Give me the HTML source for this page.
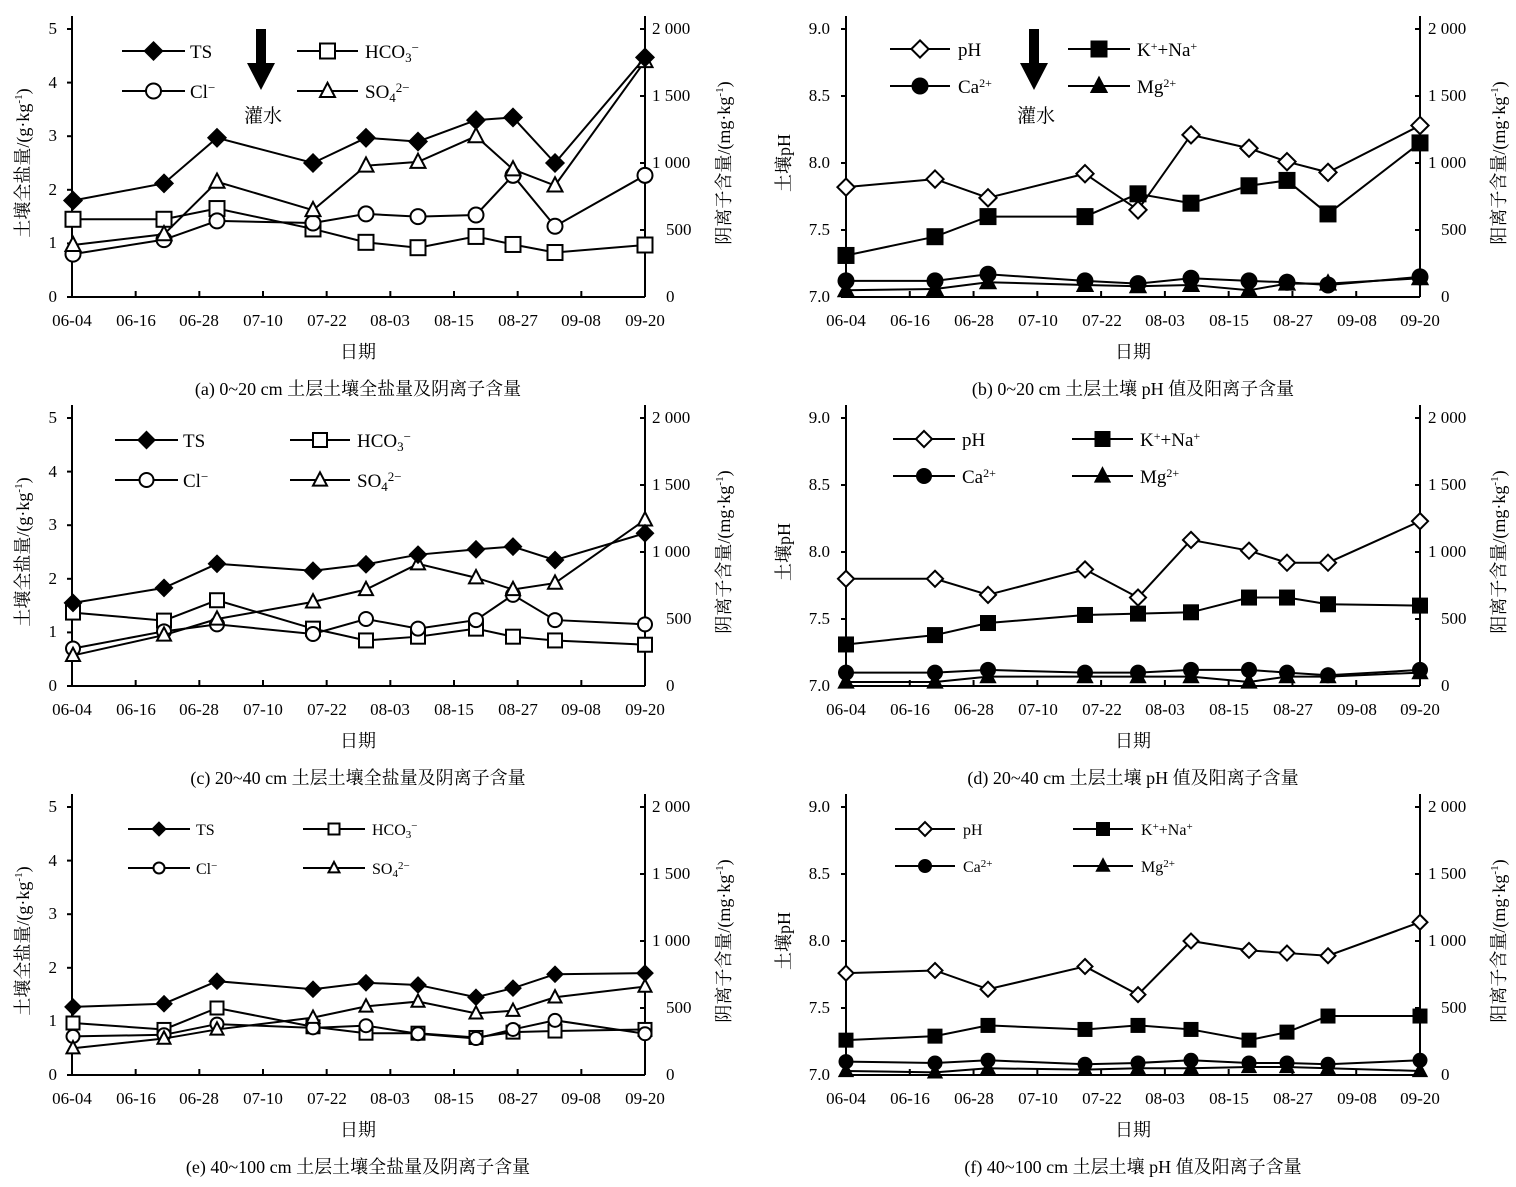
<!DOCTYPE html>
<html><head><meta charset="utf-8"><style>
body{margin:0;background:#fff}
svg{display:block}
text{font-family:"Liberation Serif","Noto Serif CJK SC","Noto Sans CJK SC",serif;fill:#000}
.t{font-size:17px}
.c{font-family:"Liberation Serif","Noto Serif CJK SC",serif;font-size:18px}
.lg{font-size:19px}
</style></head><body>
<svg id="s" width="1516" height="1187" viewBox="0 0 1516 1187" xmlns="http://www.w3.org/2000/svg">
<g id="texts">
<g>
<g class="t" text-anchor="end"><text x="57" y="302">0</text><text x="57" y="248">1</text><text x="57" y="195">2</text><text x="57" y="141">3</text><text x="57" y="88">4</text><text x="57" y="34">5</text></g>
<g class="t" text-anchor="start"><text x="666" y="302">0</text><text x="666" y="235">500</text><text x="652" y="168">1 000</text><text x="652" y="101">1 500</text><text x="652" y="34">2 000</text></g>
<g class="t" text-anchor="middle"><text x="72" y="326">06-04</text><text x="136" y="326">06-16</text><text x="199" y="326">06-28</text><text x="263" y="326">07-10</text><text x="327" y="326">07-22</text><text x="390" y="326">08-03</text><text x="454" y="326">08-15</text><text x="518" y="326">08-27</text><text x="581" y="326">09-08</text><text x="645" y="326">09-20</text></g>
<text class="c" x="358" y="358" text-anchor="middle">日期</text>
<text class="c" transform="translate(29,163) rotate(-90)" text-anchor="middle">土壤全盐量/(g·kg<tspan dy="-7" font-size="11">-1</tspan><tspan dy="7">)</tspan></text>
<text class="c" transform="translate(730,163) rotate(-90)" text-anchor="middle">阴离子含量/(mg·kg<tspan dy="-7" font-size="11">-1</tspan><tspan dy="7">)</tspan></text>
</g>
<g transform="translate(0,389)">
<g class="t" text-anchor="end"><text x="57" y="302">0</text><text x="57" y="248">1</text><text x="57" y="195">2</text><text x="57" y="141">3</text><text x="57" y="88">4</text><text x="57" y="34">5</text></g>
<g class="t" text-anchor="start"><text x="666" y="302">0</text><text x="666" y="235">500</text><text x="652" y="168">1 000</text><text x="652" y="101">1 500</text><text x="652" y="34">2 000</text></g>
<g class="t" text-anchor="middle"><text x="72" y="326">06-04</text><text x="136" y="326">06-16</text><text x="199" y="326">06-28</text><text x="263" y="326">07-10</text><text x="327" y="326">07-22</text><text x="390" y="326">08-03</text><text x="454" y="326">08-15</text><text x="518" y="326">08-27</text><text x="581" y="326">09-08</text><text x="645" y="326">09-20</text></g>
<text class="c" x="358" y="358" text-anchor="middle">日期</text>
<text class="c" transform="translate(29,163) rotate(-90)" text-anchor="middle">土壤全盐量/(g·kg<tspan dy="-7" font-size="11">-1</tspan><tspan dy="7">)</tspan></text>
<text class="c" transform="translate(730,163) rotate(-90)" text-anchor="middle">阴离子含量/(mg·kg<tspan dy="-7" font-size="11">-1</tspan><tspan dy="7">)</tspan></text>
</g>
<g transform="translate(0,778)">
<g class="t" text-anchor="end"><text x="57" y="302">0</text><text x="57" y="248">1</text><text x="57" y="195">2</text><text x="57" y="141">3</text><text x="57" y="88">4</text><text x="57" y="34">5</text></g>
<g class="t" text-anchor="start"><text x="666" y="302">0</text><text x="666" y="235">500</text><text x="652" y="168">1 000</text><text x="652" y="101">1 500</text><text x="652" y="34">2 000</text></g>
<g class="t" text-anchor="middle"><text x="72" y="326">06-04</text><text x="136" y="326">06-16</text><text x="199" y="326">06-28</text><text x="263" y="326">07-10</text><text x="327" y="326">07-22</text><text x="390" y="326">08-03</text><text x="454" y="326">08-15</text><text x="518" y="326">08-27</text><text x="581" y="326">09-08</text><text x="645" y="326">09-20</text></g>
<text class="c" x="358" y="358" text-anchor="middle">日期</text>
<text class="c" transform="translate(29,163) rotate(-90)" text-anchor="middle">土壤全盐量/(g·kg<tspan dy="-7" font-size="11">-1</tspan><tspan dy="7">)</tspan></text>
<text class="c" transform="translate(730,163) rotate(-90)" text-anchor="middle">阴离子含量/(mg·kg<tspan dy="-7" font-size="11">-1</tspan><tspan dy="7">)</tspan></text>
</g>
<g>
<g class="t" text-anchor="end"><text x="830" y="302">7.0</text><text x="830" y="235">7.5</text><text x="830" y="168">8.0</text><text x="830" y="101">8.5</text><text x="830" y="34">9.0</text></g>
<g class="t" text-anchor="start"><text x="1441" y="302">0</text><text x="1441" y="235">500</text><text x="1428" y="168">1 000</text><text x="1428" y="101">1 500</text><text x="1428" y="34">2 000</text></g>
<g class="t" text-anchor="middle"><text x="846" y="326">06-04</text><text x="910" y="326">06-16</text><text x="974" y="326">06-28</text><text x="1038" y="326">07-10</text><text x="1102" y="326">07-22</text><text x="1165" y="326">08-03</text><text x="1229" y="326">08-15</text><text x="1293" y="326">08-27</text><text x="1357" y="326">09-08</text><text x="1420" y="326">09-20</text></g>
<text class="c" x="1133" y="358" text-anchor="middle">日期</text>
<text class="c" transform="translate(790,163) rotate(-90)" text-anchor="middle">土壤pH</text>
<text class="c" transform="translate(1505,163) rotate(-90)" text-anchor="middle">阳离子含量/(mg·kg<tspan dy="-7" font-size="11">-1</tspan><tspan dy="7">)</tspan></text>
</g>
<g transform="translate(0,389)">
<g class="t" text-anchor="end"><text x="830" y="302">7.0</text><text x="830" y="235">7.5</text><text x="830" y="168">8.0</text><text x="830" y="101">8.5</text><text x="830" y="34">9.0</text></g>
<g class="t" text-anchor="start"><text x="1441" y="302">0</text><text x="1441" y="235">500</text><text x="1428" y="168">1 000</text><text x="1428" y="101">1 500</text><text x="1428" y="34">2 000</text></g>
<g class="t" text-anchor="middle"><text x="846" y="326">06-04</text><text x="910" y="326">06-16</text><text x="974" y="326">06-28</text><text x="1038" y="326">07-10</text><text x="1102" y="326">07-22</text><text x="1165" y="326">08-03</text><text x="1229" y="326">08-15</text><text x="1293" y="326">08-27</text><text x="1357" y="326">09-08</text><text x="1420" y="326">09-20</text></g>
<text class="c" x="1133" y="358" text-anchor="middle">日期</text>
<text class="c" transform="translate(790,163) rotate(-90)" text-anchor="middle">土壤pH</text>
<text class="c" transform="translate(1505,163) rotate(-90)" text-anchor="middle">阳离子含量/(mg·kg<tspan dy="-7" font-size="11">-1</tspan><tspan dy="7">)</tspan></text>
</g>
<g transform="translate(0,778)">
<g class="t" text-anchor="end"><text x="830" y="302">7.0</text><text x="830" y="235">7.5</text><text x="830" y="168">8.0</text><text x="830" y="101">8.5</text><text x="830" y="34">9.0</text></g>
<g class="t" text-anchor="start"><text x="1441" y="302">0</text><text x="1441" y="235">500</text><text x="1428" y="168">1 000</text><text x="1428" y="101">1 500</text><text x="1428" y="34">2 000</text></g>
<g class="t" text-anchor="middle"><text x="846" y="326">06-04</text><text x="910" y="326">06-16</text><text x="974" y="326">06-28</text><text x="1038" y="326">07-10</text><text x="1102" y="326">07-22</text><text x="1165" y="326">08-03</text><text x="1229" y="326">08-15</text><text x="1293" y="326">08-27</text><text x="1357" y="326">09-08</text><text x="1420" y="326">09-20</text></g>
<text class="c" x="1133" y="358" text-anchor="middle">日期</text>
<text class="c" transform="translate(790,163) rotate(-90)" text-anchor="middle">土壤pH</text>
<text class="c" transform="translate(1505,163) rotate(-90)" text-anchor="middle">阳离子含量/(mg·kg<tspan dy="-7" font-size="11">-1</tspan><tspan dy="7">)</tspan></text>
</g>
<g class="c" text-anchor="middle">
<text x="358" y="395">(a) 0~20 cm 土层土壤全盐量及阴离子含量</text>
<text x="1133" y="395">(b) 0~20 cm 土层土壤 pH 值及阳离子含量</text>
<text x="358" y="784">(c) 20~40 cm 土层土壤全盐量及阴离子含量</text>
<text x="1133" y="784">(d) 20~40 cm 土层土壤 pH 值及阳离子含量</text>
<text x="358" y="1173">(e) 40~100 cm 土层土壤全盐量及阴离子含量</text>
<text x="1133" y="1173">(f) 40~100 cm 土层土壤 pH 值及阳离子含量</text>
</g>
<text class="c" x="263" y="122" text-anchor="middle" style="font-size:19px">灌水</text>
<text class="c" x="1036" y="122" text-anchor="middle" style="font-size:19px">灌水</text>
<g class="lg">
<text x="190" y="58">TS</text><text x="365" y="58">HCO<tspan font-size="13" dy="4">3</tspan><tspan dy="-10" font-size="13">−</tspan></text>
<text x="190" y="98">Cl<tspan dy="-6" font-size="13">−</tspan></text><text x="365" y="98">SO<tspan font-size="13" dy="4">4</tspan><tspan dy="-10" font-size="13">2−</tspan></text>
<text x="183" y="447">TS</text><text x="357" y="447">HCO<tspan font-size="13" dy="4">3</tspan><tspan dy="-10" font-size="13">−</tspan></text>
<text x="183" y="487">Cl<tspan dy="-6" font-size="13">−</tspan></text><text x="357" y="487">SO<tspan font-size="13" dy="4">4</tspan><tspan dy="-10" font-size="13">2−</tspan></text>
</g>
<g style="font-size:16px">
<text x="196" y="835">TS</text><text x="372" y="835">HCO<tspan font-size="11" dy="3">3</tspan><tspan dy="-9" font-size="11">−</tspan></text>
<text x="196" y="874">Cl<tspan dy="-5" font-size="11">−</tspan></text><text x="372" y="874">SO<tspan font-size="11" dy="3">4</tspan><tspan dy="-8" font-size="11">2−</tspan></text>
</g>
<g class="lg">
<text x="958" y="56">pH</text><text x="1137" y="56">K<tspan dy="-6" font-size="12">+</tspan><tspan dy="6">+Na</tspan><tspan dy="-6" font-size="12">+</tspan></text>
<text x="958" y="93">Ca<tspan dy="-6" font-size="12">2+</tspan></text><text x="1137" y="93">Mg<tspan dy="-6" font-size="12">2+</tspan></text>
<text x="962" y="446">pH</text><text x="1140" y="446">K<tspan dy="-6" font-size="12">+</tspan><tspan dy="6">+Na</tspan><tspan dy="-6" font-size="12">+</tspan></text>
<text x="962" y="483">Ca<tspan dy="-6" font-size="12">2+</tspan></text><text x="1140" y="483">Mg<tspan dy="-6" font-size="12">2+</tspan></text>
</g>
<g style="font-size:16px">
<text x="963" y="835">pH</text><text x="1141" y="835">K<tspan dy="-5" font-size="11">+</tspan><tspan dy="5">+Na</tspan><tspan dy="-5" font-size="11">+</tspan></text>
<text x="963" y="872">Ca<tspan dy="-5" font-size="11">2+</tspan></text><text x="1141" y="872">Mg<tspan dy="-5" font-size="11">2+</tspan></text>
</g>
</g>
<g id="shapes" stroke="#000" stroke-width="2" fill="none"></g>
</svg>
<script>
var NS="http://www.w3.org/2000/svg",G=document.getElementById("shapes");
function el(t,a){var e=document.createElementNS(NS,t);for(var k in a)e.setAttribute(k,a[k]);G.appendChild(e);return e;}
function line(x1,y1,x2,y2,w){el("line",{x1:x1,y1:y1,x2:x2,y2:y2,"stroke-width":w||2});}
function mk(type,x,y,s,fill){var h=s/2,f=fill?"#000":"#fff";
 if(type=="d")el("polygon",{points:[x,y-h*1.15,x+h*1.15,y,x,y+h*1.15,x-h*1.15,y].join(","),fill:f});
 else if(type=="s")el("rect",{x:x-h,y:y-h,width:s,height:s,fill:f});
 else if(type=="c")el("circle",{cx:x,cy:y,r:h,fill:f});
 else el("polygon",{points:[x,y-h*1.1,x+h,y+h*0.8,x-h,y+h*0.8].join(","),fill:f});}
function series(xs,ys,type,s,fill){el("polyline",{points:xs.map(function(x,i){return x+","+ys[i]}).join(" ")});xs.forEach(function(x,i){mk(type,x,ys[i],s,fill)});}
var XL=[73,164,217,313,366,418,476,513,555,645],XR=[846,935,988,1085,1138,1191,1249,1287,1328,1420];
function axes(x0,x1,oy,isR){var b=297+oy,t=16+oy;
 line(x0,t,x0,b);line(x1,t,x1,b);line(x0,b,x1,b);
 for(var i=0;i<10;i++){var x=x0+(x1-x0)*i/9;line(x,b,x,b-6);}
 if(!isR){for(var v=0;v<=5;v++)line(x0-5,b-53.6*v,x0,b-53.6*v);}
 else{for(var v=0;v<=4;v++)line(x0-5,b-67*v,x0,b-67*v);}
 for(var v=0;v<=4;v++)line(x1-5,b-67*v,x1,b-67*v);}
[0,389,778].forEach(function(o){axes(72,645,o,false);axes(846,1420,o,true);});
var L=[
{TS:[1.8,2.12,2.97,2.5,2.97,2.9,3.3,3.35,2.5,4.47],H:[1.45,1.45,1.65,1.27,1.02,0.92,1.13,0.98,0.83,0.97],C:[0.8,1.07,1.42,1.38,1.55,1.5,1.53,2.27,1.32,2.27],S:[0.97,1.17,2.15,1.62,2.45,2.52,3.0,2.38,2.08,4.4],s:15},
{TS:[1.55,1.83,2.28,2.15,2.27,2.45,2.55,2.6,2.35,2.85],H:[1.37,1.22,1.6,1.07,0.85,0.92,1.07,0.92,0.85,0.77],C:[0.7,1.02,1.15,0.97,1.25,1.07,1.23,1.7,1.23,1.15],S:[0.57,0.95,1.25,1.57,1.8,2.28,2.02,1.8,1.92,3.1],s:14},
{TS:[1.27,1.33,1.75,1.6,1.72,1.68,1.45,1.62,1.88,1.9],H:[0.97,0.85,1.25,0.9,0.78,0.78,0.7,0.8,0.82,0.85],C:[0.72,0.75,0.95,0.88,0.92,0.77,0.68,0.85,1.02,0.77],S:[0.5,0.68,0.85,1.07,1.28,1.37,1.15,1.2,1.45,1.65],s:13}];
var R=[
{P:[7.82,7.88,7.74,7.92,7.65,8.21,8.11,8.01,7.93,8.28],K:[7.31,7.45,7.6,7.6,7.77,7.7,7.83,7.87,7.62,8.15],C:[7.12,7.12,7.17,7.12,7.1,7.14,7.12,7.11,7.09,7.15],M:[7.05,7.06,7.11,7.09,7.08,7.09,7.05,7.1,7.1,7.14],s:15},
{P:[7.8,7.8,7.68,7.87,7.66,8.09,8.01,7.92,7.92,8.23],K:[7.31,7.38,7.47,7.53,7.54,7.55,7.66,7.66,7.61,7.6],C:[7.1,7.1,7.12,7.1,7.1,7.12,7.12,7.1,7.08,7.12],M:[7.03,7.03,7.07,7.07,7.07,7.07,7.03,7.07,7.07,7.1],s:14},
{P:[7.76,7.78,7.64,7.81,7.6,8.0,7.93,7.91,7.89,8.14],K:[7.26,7.29,7.37,7.34,7.37,7.34,7.26,7.32,7.44,7.44],C:[7.1,7.09,7.11,7.08,7.09,7.11,7.09,7.09,7.08,7.11],M:[7.03,7.02,7.05,7.04,7.05,7.05,7.06,7.06,7.05,7.03],s:13}];
L.forEach(function(d,i){var o=389*i,f=function(a){return a.map(function(v){return 297+o-53.6*v})};
 series(XL,f(d.H),"s",d.s,0);series(XL,f(d.C),"c",d.s,0);series(XL,f(d.S),"t",d.s,0);series(XL,f(d.TS),"d",d.s,1);});
R.forEach(function(d,i){var o=389*i,f=function(a){return a.map(function(v){return 297+o-134*(v-7)})};
 series(XR,f(d.M),"t",d.s,1);series(XR,f(d.C),"c",d.s,1);series(XR,f(d.K),"s",d.s,1);series(XR,f(d.P),"d",d.s,0);});
function leg(x1,x2,y,type,s,fill){line(x1,y,x2,y);mk(type,(x1+x2)/2,y,s,fill);}
leg(122,185,51,"d",15,1);leg(297,358,51,"s",15,0);leg(122,185,91,"c",15,0);leg(297,358,91,"t",15,0);
leg(115,178,440,"d",14,1);leg(290,350,440,"s",14,0);leg(115,178,480,"c",14,0);leg(290,350,480,"t",14,0);
leg(128,190,829,"d",11,1);leg(303,365,829,"s",11,0);leg(128,190,868,"c",11,0);leg(303,365,868,"t",11,0);
leg(890,950,49,"d",15,0);leg(1068,1130,49,"s",15,1);leg(890,950,86,"c",15,1);leg(1068,1130,86,"t",15,1);
leg(893,955,439,"d",14,0);leg(1072,1133,439,"s",14,1);leg(893,955,476,"c",14,1);leg(1072,1133,476,"t",14,1);
leg(895,955,829,"d",12,0);leg(1073,1133,829,"s",12,1);leg(895,955,866,"c",12,1);leg(1073,1133,866,"t",12,1);
[[261],[1034]].forEach(function(a){var x=a[0];el("polygon",{points:[x-5,29,x+5,29,x+5,63,x+14,63,x,90,x-14,63,x-5,63].join(","),fill:"#000","stroke-width":0});});
</script>
</body></html>
